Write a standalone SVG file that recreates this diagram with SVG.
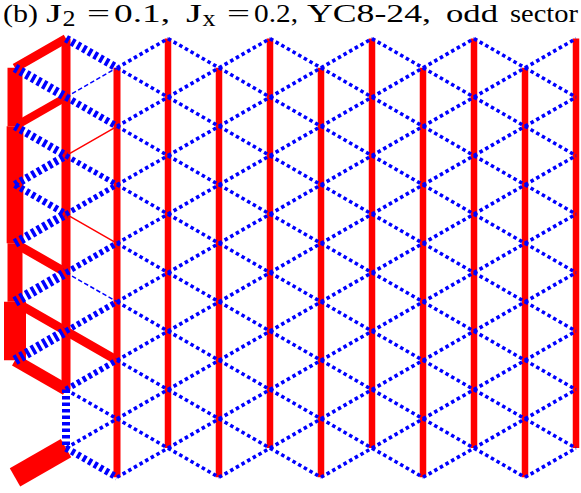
<svg xmlns="http://www.w3.org/2000/svg" xmlns:xlink="http://www.w3.org/1999/xlink" width="581" height="493" viewBox="0 0 581 493">
<style>
.r{stroke:#ff0000;fill:none;stroke-linecap:butt}
.b{stroke:#0000ff;fill:none;stroke-dasharray:3.5 3;stroke-linecap:butt}
.bt{stroke:#0000ff;fill:none;stroke-width:1.5;stroke-dasharray:4.5 2.5}
.d{stroke-width:3.6}
.title{font-family:"Liberation Serif","DejaVu Serif",serif;font-size:26px;fill:#000}
.sub{font-family:"Liberation Serif","DejaVu Serif",serif;font-size:24px;fill:#000}
</style>
<defs>
<path id="unitA" class="b d" d="M117 67.8L168 38.6M117 126.3L168 97.1M117 184.8L168 155.6M117 243.3L168 214.1M117 301.8L168 272.6M117 360.3L168 331.1M117 418.8L168 389.6M117 477.3L168 448.1M117 67.8L168 97.1M117 126.3L168 155.6M117 184.8L168 214.1M117 243.3L168 272.6M117 301.8L168 331.1M117 360.3L168 389.6M117 418.8L168 448.1"/>
<path id="unitB" class="b d" d="M168 97.1L219 67.8M168 155.6L219 126.3M168 214.1L219 184.8M168 272.6L219 243.3M168 331.1L219 301.8M168 389.6L219 360.3M168 448.1L219 418.8M168 38.6L219 67.8M168 97.1L219 126.3M168 155.6L219 184.8M168 214.1L219 243.3M168 272.6L219 301.8M168 331.1L219 360.3M168 389.6L219 418.8M168 448.1L219 477.3"/>
</defs>
<g id="title">
<text class="title" x="3" y="22" textLength="35" lengthAdjust="spacingAndGlyphs">(b)</text>
<text class="title" x="46" y="22" textLength="16" lengthAdjust="spacingAndGlyphs">J</text>
<text class="sub" x="62.5" y="26" textLength="13" lengthAdjust="spacingAndGlyphs">2</text>
<text class="title" x="87" y="22" textLength="23" lengthAdjust="spacingAndGlyphs">=</text>
<text class="title" x="114" y="22" textLength="56" lengthAdjust="spacingAndGlyphs">0.1,</text>
<text class="title" x="186" y="22" textLength="16" lengthAdjust="spacingAndGlyphs">J</text>
<text class="sub" x="202.5" y="26" textLength="13" lengthAdjust="spacingAndGlyphs">x</text>
<text class="title" x="227" y="22" textLength="23" lengthAdjust="spacingAndGlyphs">=</text>
<text class="title" x="254" y="22" textLength="44" lengthAdjust="spacingAndGlyphs">0.2,</text>
<text class="title" x="307" y="22" textLength="124" lengthAdjust="spacingAndGlyphs">YC8-24,</text>
<text class="title" x="446" y="22" textLength="52" lengthAdjust="spacingAndGlyphs">odd</text>
<text class="title" x="510" y="22" textLength="68" lengthAdjust="spacingAndGlyphs">sector</text>
</g>
<g id="connectors">
<g id="vertical-bonds" class="r">
<path stroke-width="15" d="M15 67.8V126.3M15 243.3V301.8"/>
<path stroke-width="16.7" d="M15 126.3V243.3"/>
<path stroke-width="22" d="M15 301.8V360.3"/>
<path stroke-width="9" d="M66 38.6V389.6"/>
<path stroke-width="7" d="M117 67.8V477.3"/>
<path stroke-width="6.5" d="M219 67.8V477.3M321 67.8V477.3M423 67.8V477.3M525 67.8V477.3M168 38.6V448.1M270 38.6V448.1M372 38.6V448.1M474 38.6V448.1M576 38.6V448.1"/>
</g>
<g id="left-red-diagonals" class="r">
<path stroke-width="9" d="M15 67.8L66 38.6M15 243.3L66 272.6M15 301.8L66 331.1M66 331.1L117 360.3"/>
<path stroke-width="8" d="M15 126.3L66 97.1"/>
<path stroke-width="12" d="M15 360.3L66 389.6"/>
<path stroke-width="21" d="M15 477.3L66 448.1"/>
<path stroke-width="1.5" d="M66 155.6L117 126.3M66 214.1L117 243.3"/>
</g>
<g id="lattice-diagonals">
<use xlink:href="#unitA"/>
<use xlink:href="#unitA" transform="translate(102 0)"/>
<use xlink:href="#unitA" transform="translate(204 0)"/>
<use xlink:href="#unitA" transform="translate(306 0)"/>
<use xlink:href="#unitA" transform="translate(408 0)"/>
<use xlink:href="#unitB"/>
<use xlink:href="#unitB" transform="translate(102 0)"/>
<use xlink:href="#unitB" transform="translate(204 0)"/>
<use xlink:href="#unitB" transform="translate(306 0)"/>
</g>
<g id="left-blue-bonds">
<path class="b" stroke-width="10" d="M15 301.8L66 272.6M15 360.3L66 331.1"/>
<path class="b" stroke-width="9" d="M15 67.8L66 97.1M15 243.3L66 214.1"/>
<path class="b" stroke-width="8" d="M15 126.3L66 155.6M15 184.8L66 155.6M66 38.6L117 67.8M66 389.6V448.1"/>
<path class="b" stroke-width="7" d="M15 184.8L66 214.1M66 97.1L117 126.3M66 448.1L117 477.3"/>
<path class="b" stroke-width="6" d="M66 272.6L117 243.3M66 331.1L117 301.8M66 389.6L117 360.3"/>
<path class="b" stroke-width="5.5" d="M66 155.6L117 184.8M66 214.1L117 184.8"/>
<path class="b d" d="M66 389.6L117 418.8M66 448.1L117 418.8"/>
<path class="bt" d="M66 97.1L117 67.8M66 272.6L117 301.8"/>
</g>
</g>
</svg>
